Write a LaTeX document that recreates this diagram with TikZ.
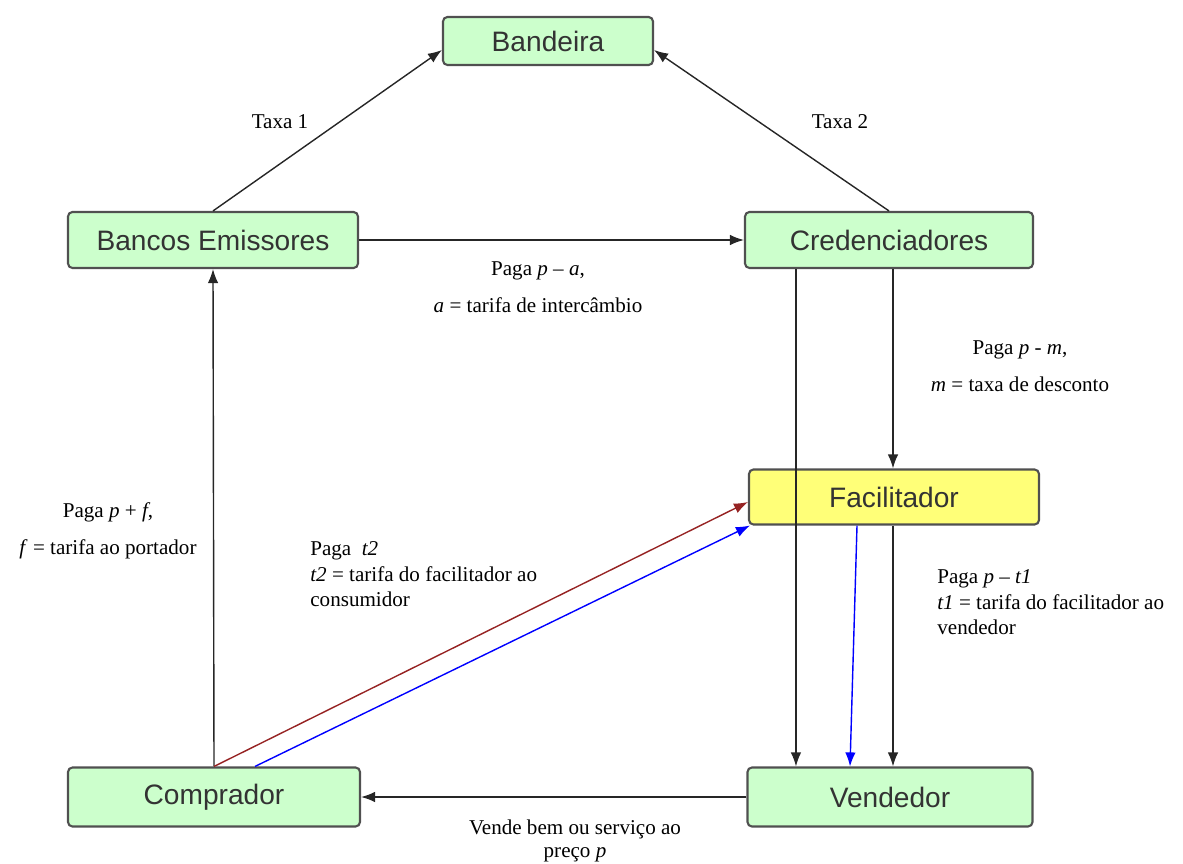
\documentclass[tikz,border=0pt]{standalone}
\usepackage{fontspec}
\setmainfont{Liberation Serif}
\newfontfamily\boxfont{Liberation Sans}
\usepackage{xcolor}
\usepackage{tikz}
\usetikzlibrary{calc}
\usetikzlibrary{arrows.meta}
\usetikzlibrary{positioning}
\definecolor{boxgreen}{RGB}{204,255,204}
\definecolor{boxyellow}{RGB}{255,255,120}
\definecolor{boxline}{RGB}{80,80,80}
\definecolor{darkred}{RGB}{150,35,35}
\tikzset{>={Latex[length=8pt,width=6pt]}}
\tikzstyle{agent} = [rectangle, rounded corners=2.5pt, draw=boxline, line width=1.2pt, fill=boxgreen, minimum width=5.8cm, minimum height=1.12cm, font=\boxfont\fontsize{16}{19}\selectfont, text=black!80]
\tikzstyle{flow} = [->, line width=0.8pt, draw=black!85]
\tikzstyle{lbl} = [draw=none, inner sep=0, font=\fontsize{12}{21}\selectfont, align=center]

\begin{document}
\begin{tikzpicture}[x=0.02cm, y=-0.02cm]
\useasboundingbox (0,0) rectangle (1183,864);
\node [agent, minimum width=4.2cm, minimum height=0.96cm] (band) at (548, 41) {Bandeira};
\node [agent] (bancos) at (213, 240) {Bancos Emissores};
\node [agent, minimum width=5.76cm] (cred) at (889, 240) {Credenciadores};
\node [agent, fill=boxyellow, minimum height=1.1cm] (facil) at (894, 497) {Facilitador};
\node [agent, minimum width=5.84cm, minimum height=1.18cm] (comp) at (214, 797) {Comprador};
\node [agent, minimum width=5.7cm, minimum height=1.18cm] (vend) at (890, 797) {Vendedor};
% fluxos entre os agentes
\draw [flow] (bancos.north) to ([yshift=-0.18cm]band.west);
\draw [flow] (cred.north) to ([yshift=-0.18cm]band.east);
\draw [flow] (bancos.east) to (cred.west);
\draw [flow] ([xshift=1.04cm]cred.south west) to ([xshift=1.04cm]cred.south west |- vend.north);
\draw [flow] ([xshift=0.08cm]cred.south) to ([xshift=0.08cm]cred.south |- facil.north);
\draw [flow] ([xshift=-0.02cm]facil.south) to ([xshift=-0.02cm]facil.south |- vend.north);
\draw [flow] (comp.north) to (bancos.south);
\draw [flow] (vend.west) to (comp.east);
\draw [flow, draw=darkred, -{Latex[length=8pt,width=6pt,fill=darkred]}] (comp.north) to ([yshift=-0.1cm]facil.west);
\draw [flow, draw=blue] ([xshift=0.82cm]comp.north) to ([xshift=0.04cm]facil.south west);
\draw [flow, draw=blue] ([xshift=-0.74cm]facil.south) to ([xshift=-0.8cm]vend.north);
% textos
\node [lbl] (tx1) at (280, 122) {Taxa 1};
\node [lbl] (tx2) at (840, 122) {Taxa 2};
\node [lbl] (pa) at (538, 287) {Paga \textit{p} – \textit{a},\\ \textit{a} = tarifa de intercâmbio};
\node [lbl] (pm) at (1020, 366) {Paga \textit{p} - \textit{m},\\ \textit{m} = taxa de desconto};
\node [lbl] (pf) at (108, 531) {Paga \textit{p} + \textit{f},\\ \textit{f} = tarifa ao portador};
\node [lbl, anchor=north west, align=left, font=\fontsize{12}{14.7}\selectfont] (pt2) at (310, 541) {Paga\ \ \textit{t2}\\ \textit{t2} = tarifa do facilitador ao\\ consumidor};
\node [lbl, anchor=north west, align=left, font=\fontsize{12}{14.7}\selectfont] (pt1) at (937, 569) {Paga \textit{p} – \textit{t1}\\ \textit{t1} = tarifa do facilitador ao\\ vendedor};
\node [lbl, font=\fontsize{12}{13}\selectfont] (pv) at (575, 841) {Vende bem ou serviço ao\\ preço \textit{p}};
\end{tikzpicture}
\end{document}
